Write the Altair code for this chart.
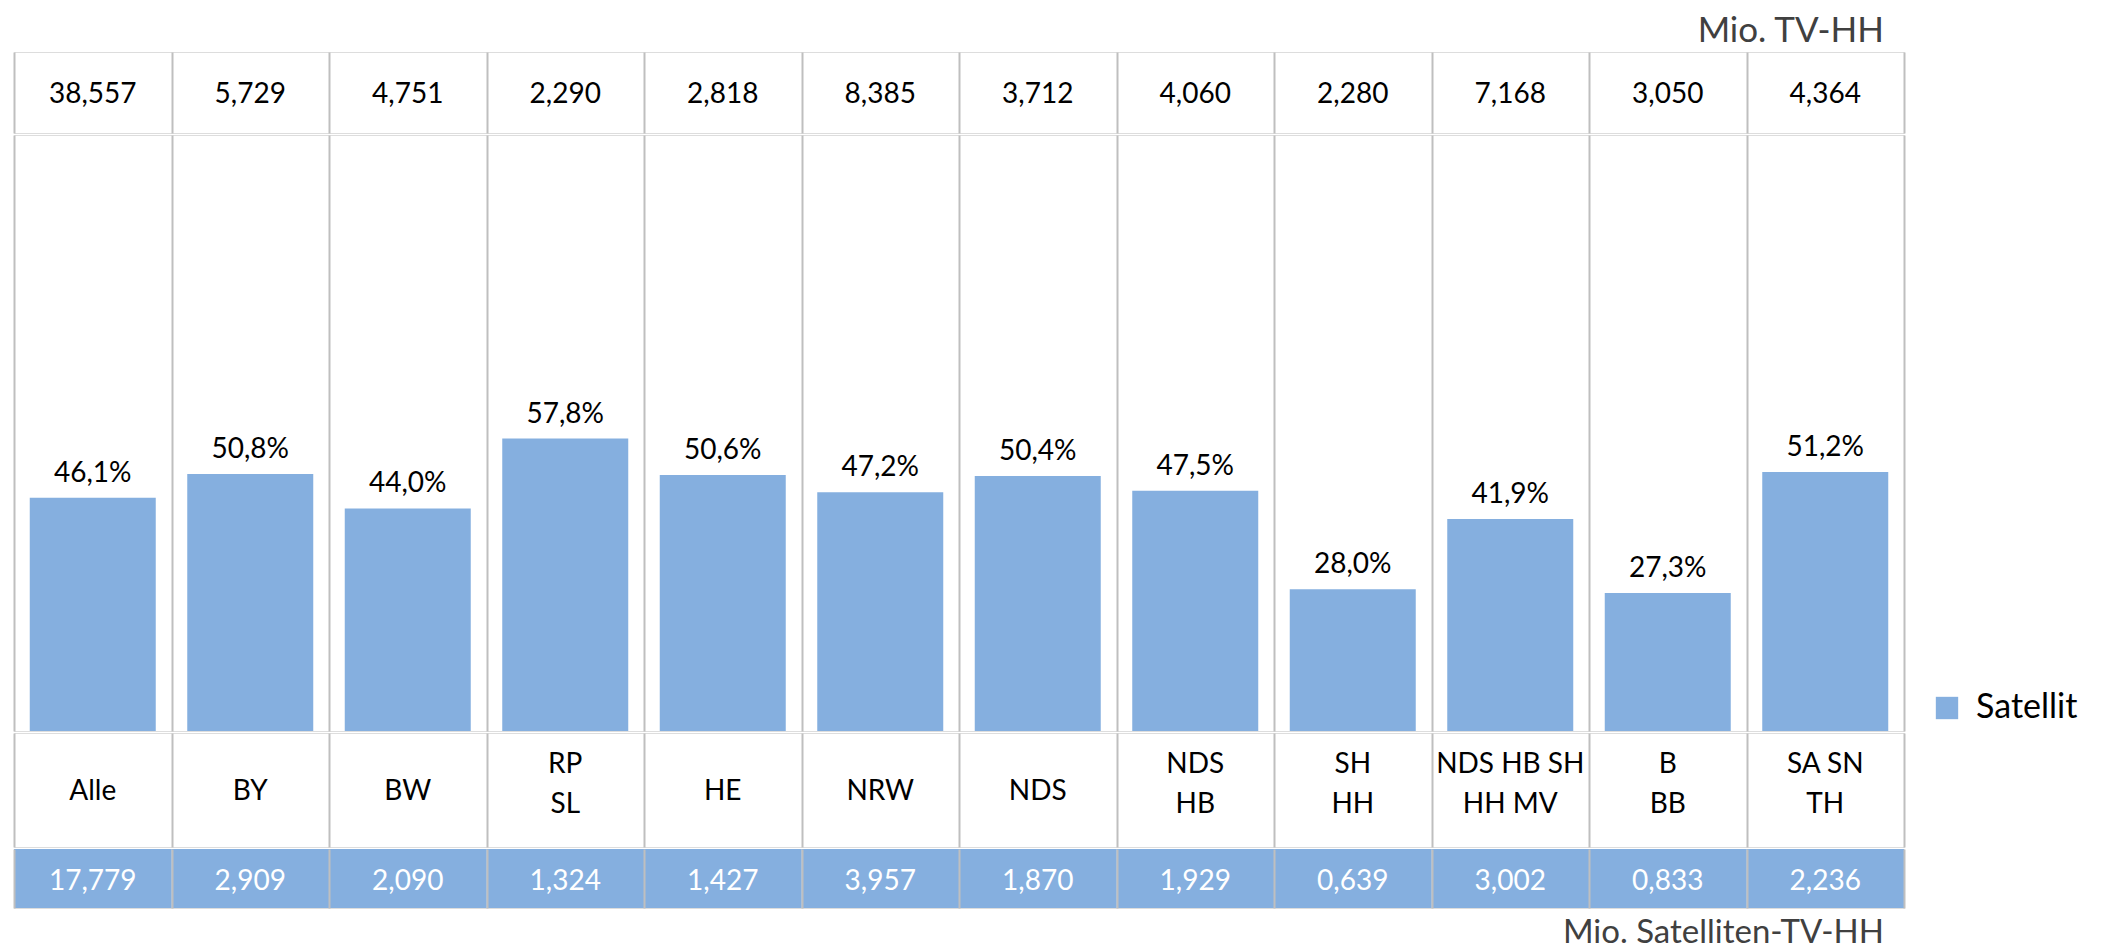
import altair as alt
import pandas as pd

categories = ["Alle", "BY", "BW", "RP\nSL", "HE", "NRW", "NDS", "NDS\nHB",
              "SH\nHH", "NDS HB SH\nHH MV", "B\nBB", "SA SN\nTH"]
tv_hh = [38.557, 5.729, 4.751, 2.290, 2.818, 8.385, 3.712, 4.060, 2.280, 7.168, 3.050, 4.364]
sat_share = [46.1, 50.8, 44.0, 57.8, 50.6, 47.2, 50.4, 47.5, 28.0, 41.9, 27.3, 51.2]
sat_hh = [17.779, 2.909, 2.090, 1.324, 1.427, 3.957, 1.870, 1.929, 0.639, 3.002, 0.833, 2.236]
series_name = "Satellit"
top_title = "Mio. TV-HH"
bottom_title = "Mio. Satelliten-TV-HH"

BLUE = "#85AFDF"
GRID = "#BFBFBF"
FONT = "Lato"
FS = 28
W = 1890

df = pd.DataFrame({
    "cat": categories,
    "tv": tv_hh,
    "share": sat_share,
    "sat": sat_hh,
    "series": [series_name] * len(categories),
})
df["tv_lbl"] = [f"{v:.3f}".replace(".", ",") for v in tv_hh]
df["sat_lbl"] = [f"{v:.3f}".replace(".", ",") for v in sat_hh]
df["share_lbl"] = [f"{v:.1f}%".replace(".", ",") for v in sat_share]
df["multi"] = ["\n" in c for c in categories]

def xenc(zindex=0):
    return alt.X(
        "cat:N", sort=categories,
        scale=alt.Scale(paddingInner=0, paddingOuter=0),
        axis=alt.Axis(grid=True, tickBand="extent", labels=False, ticks=False,
                      domain=False, title=None, gridColor=GRID, gridWidth=2,
                      zindex=zindex),
    )

base = alt.Chart(df)

# top row: TV households
top = base.mark_text(font=FONT, fontSize=FS, color="black", baseline="middle", dy=2).encode(
    x=xenc(), text="tv_lbl:N"
).properties(
    width=W, height=81,
    title=alt.TitleParams(top_title, anchor="end", orient="top", frame="group",
                          font=FONT, fontSize=35, fontWeight="normal", color="#404040",
                          dx=-20, offset=3),
)

# bars
yscale = alt.Scale(domain=[0, 117.8])
bars = base.mark_bar(width=alt.RelativeBandSize(0.8)).encode(
    x=xenc(),
    y=alt.Y("share:Q", scale=yscale, axis=None),
    color=alt.Color("series:N", scale=alt.Scale(range=[BLUE]),
                    legend=alt.Legend(title=None, orient="none", legendX=1916, legendY=639,
                                      symbolType="square", symbolSize=500, symbolStrokeWidth=0,
                                      labelFont=FONT, labelFontSize=34, labelColor="black",
                                      labelOffset=12, padding=0)),
)
pct = base.mark_text(font=FONT, fontSize=FS, color="black", baseline="middle", dy=-24).encode(
    x=xenc(), y=alt.Y("share:Q", scale=yscale, axis=None),
    text="share_lbl:N",
)
plot = alt.layer(bars, pct).properties(width=W, height=596)

# category label row
lab_single = base.transform_filter("!datum.multi").mark_text(
    font=FONT, fontSize=FS, color="black", baseline="middle", dy=2
).encode(x=xenc(), text="cat:N")
lab_multi = base.transform_filter("datum.multi").mark_text(
    font=FONT, fontSize=FS, color="black", baseline="middle",
    lineBreak="\n", lineHeight=40, dy=-25
).encode(x=xenc(), text="cat:N")
labels = alt.layer(lab_single, lab_multi).properties(width=W, height=114)

# satellite households row
sat_bg = base.mark_rect(color=BLUE).encode(x=xenc(zindex=1))
sat_txt = base.mark_text(font=FONT, fontSize=FS, color="white", baseline="middle", dy=3).encode(
    x=xenc(zindex=1), text="sat_lbl:N"
)
sat = alt.layer(sat_bg, sat_txt).properties(
    width=W, height=59,
    title=alt.TitleParams(bottom_title, anchor="end", orient="bottom", frame="group",
                          font=FONT, fontSize=33, fontWeight="normal", color="#404040",
                          dx=-20, offset=9),
)

chart = alt.vconcat(top, plot, labels, sat, spacing=0).properties(
    padding={"left": 5, "top": 5, "right": 5, "bottom": 5}
).configure_view(stroke=GRID, strokeWidth=2).configure_legend(
    labelFont=FONT, labelFontSize=34
).configure(background="white")

chart.save("out.html", embed_options={"renderer": "svg", "actions": False})
